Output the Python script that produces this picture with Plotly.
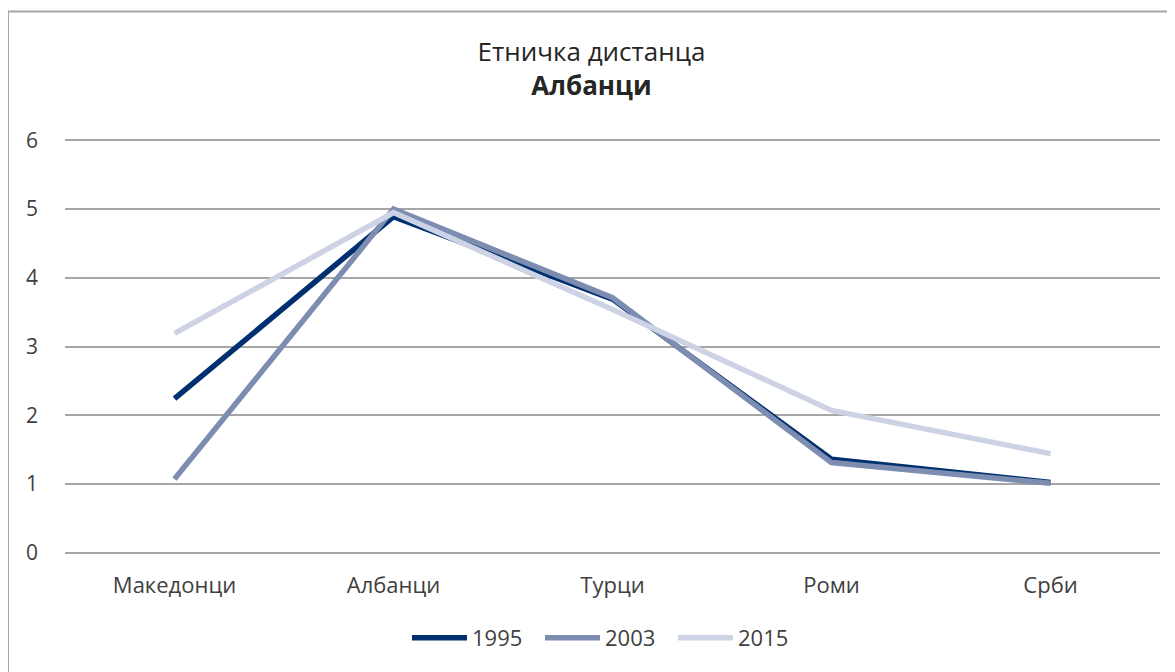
import plotly.graph_objects as go

categories = ["Македонци", "Албанци", "Турци", "Роми", "Срби"]
years = ["1995", "2003", "2015"]
v1995 = [2.24, 4.89, 3.69, 1.36, 1.02]
v2003 = [1.07, 5.0, 3.71, 1.31, 1.01]
v2015 = [3.19, 4.95, 3.54, 2.07, 1.44]
colors = ["#003070", "#7D8DB1", "#CDD3E5"]

# page is offset by the 8px body margin, so the figure is slightly smaller
W, H = 1167, 664
L, R, T, B = 57, 15, 130, 117

fig = go.Figure()
for name, vals, col in zip(years, [v1995, v2003, v2015], colors):
    fig.add_trace(go.Scatter(x=categories, y=vals, name=name, mode="lines",
                             line=dict(color=col, width=5.5)))

pw = W - L - R
ph = H - T - B
def px(x):
    return (x - L) / pw
def py(y):
    return (H - B - y) / ph

fig.add_shape(type="line", xref="paper", yref="paper",
              x0=px(0), x1=px(1180), y0=py(3.5), y1=py(3.5),
              line=dict(color="#A6A6A6", width=2))
fig.add_shape(type="line", xref="paper", yref="paper",
              x0=px(0), x1=px(0), y0=py(3.5), y1=py(680),
              line=dict(color="#A6A6A6", width=2))

fig.update_layout(
    width=W, height=H,
    margin=dict(l=L, r=R, t=T, b=B),
    paper_bgcolor="white", plot_bgcolor="white",
    font=dict(family="Open Sans, Noto Sans, sans-serif", color="#404040", size=21),
    title=dict(text="Етничка дистанца<br><b>Албанци</b>",
               x=0.5, xanchor="center", y=1 - 53 / H, yanchor="middle",
               font=dict(size=26, color="#262626")),
    xaxis=dict(showgrid=False, showline=False, zeroline=False,
               ticks="", tickfont=dict(size=22, color="#404040"),
               range=[-0.5, 4.5], fixedrange=True, ticklabelstandoff=15),
    yaxis=dict(range=[-0.035, 6.035], tickvals=[0, 1, 2, 3, 4, 5, 6],
               showgrid=True, gridcolor="#A6A6A6",
               gridwidth=1.5, zeroline=False, showline=False,
               tickfont=dict(size=21, color="#404040"), ticks="",
               ticklabelstandoff=26),
    legend=dict(orientation="h", x=px(399), xanchor="left", y=py(630), yanchor="middle",
                font=dict(size=22, color="#404040"), itemwidth=55,
                entrywidth=63, entrywidthmode="pixels",
                tracegroupgap=0),
    showlegend=True,
)

fig.write_html("out.html")
